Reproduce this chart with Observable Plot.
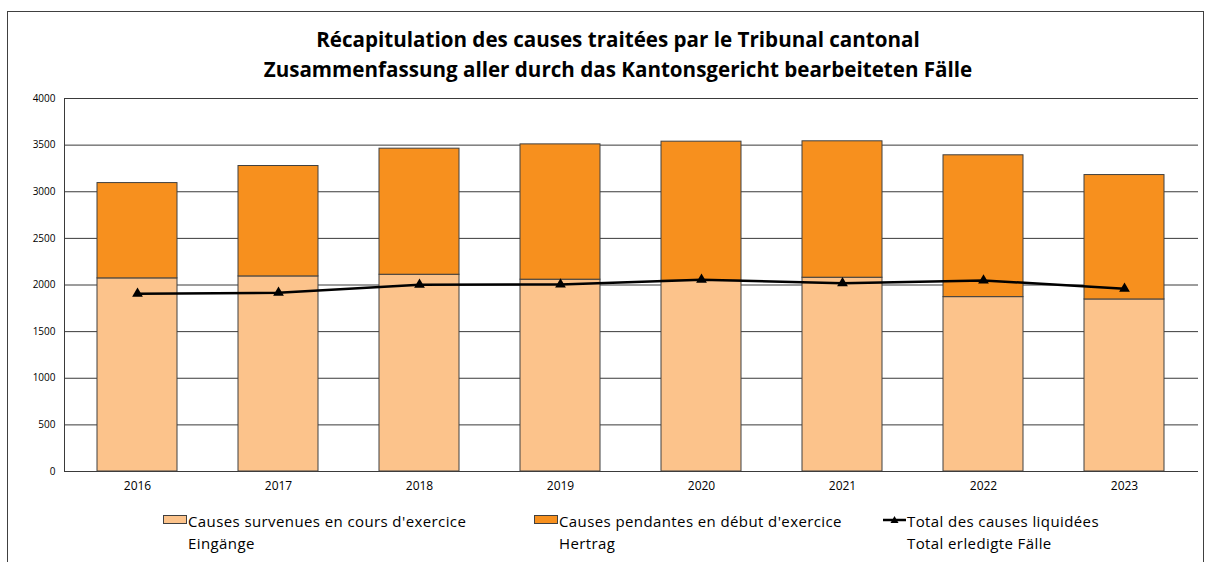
<!DOCTYPE html>
<html><head><meta charset="utf-8">
<script src="https://cdn.jsdelivr.net/npm/d3@7"></script>
<script src="https://cdn.jsdelivr.net/npm/@observablehq/plot@0.6"></script>
<style>
body{margin:0;background:#fff;width:1206px;height:562px;overflow:hidden;position:relative;font-family:"Open Sans",sans-serif;}
#frame{position:absolute;left:7px;top:11px;width:1195px;height:600px;border:1px solid #404040;}
#title{position:absolute;left:0;top:24px;width:1236px;text-align:center;font-weight:bold;font-size:20.6px;line-height:30px;color:#000;}
#chart{position:absolute;left:0;top:88px;}
#legend{position:absolute;top:510px;left:0;width:1206px;font-size:15px;letter-spacing:0.4px;line-height:22px;color:#000;}
.item{position:absolute;top:0;white-space:nowrap;}
.item svg{position:absolute;left:-25px;top:5px;}
</style></head>
<body>
<div id="frame"></div>
<div id="title">Récapitulation des causes traitées par le Tribunal cantonal<br>Zusammenfassung aller durch das Kantonsgericht bearbeiteten Fälle</div>
<div id="chart"></div>
<div id="legend">
 <div class="item" style="left:188px"><svg width="25" height="12"><rect x="0.5" y="0.5" width="23" height="8" fill="#FCC38B" stroke="#404040"/></svg>Causes survenues en cours d'exercice<br>Eingänge</div>
 <div class="item" style="left:559px"><svg width="25" height="12"><rect x="0.5" y="0.5" width="23" height="8" fill="#F7901E" stroke="#404040"/></svg>Causes pendantes en début d'exercice<br>Hertrag</div>
 <div class="item" style="left:907px"><svg width="25" height="12"><line x1="1" x2="24" y1="5" y2="5" stroke="#000" stroke-width="2.5"/><path d="M12.5,1 L16.5,8 L8.5,8 Z" fill="#000"/></svg>Total des causes liquidées<br>Total erledigte Fälle</div>
</div>
<script>
const years = ["2016","2017","2018","2019","2020","2021","2022","2023"];
const eingaenge = [2071, 2092, 2110, 2057, 2045, 2078, 1870, 1845];
const hertrag = [1022, 1184, 1352, 1451, 1492, 1463, 1521, 1334];
const erledigt = [1907, 1917, 2003, 2006, 2057, 2020, 2049, 1960];
const yTicks = [0, 500, 1000, 1500, 2000, 2500, 3000, 3500, 4000];

const stacked = [
  ...years.map((y, i) => ({year: y, serie: "Eingänge", value: eingaenge[i]})),
  ...years.map((y, i) => ({year: y, serie: "Hertrag", value: hertrag[i]}))
];
const lineData = years.map((y, i) => ({year: y, value: erledigt[i]}));

const chart = Plot.plot({
  width: 1206,
  height: 420,
  marginLeft: 64,
  marginRight: 8,
  marginTop: 10,
  marginBottom: 37,
  style: {fontFamily: "Open Sans, sans-serif", fontSize: "10px", color: "#000", background: "transparent"},
  x: {domain: years, paddingInner: 0.43, paddingOuter: 0.215, label: null},
  y: {domain: [0, 4000], label: null},
  color: {domain: ["Eingänge", "Hertrag"], range: ["#FCC38B", "#F7901E"]},
  marks: [
    Plot.ruleY(yTicks, {stroke: "#3a3a3a", strokeWidth: 1}),
    Plot.frame({anchor: "left", stroke: "#3a3a3a"}),
    Plot.axisY({ticks: yTicks, tickSize: 0, tickPadding: 9, tickFormat: d => String(d), fontSize: 10}),
    Plot.axisX({tickSize: 0, tickPadding: 10, fontSize: 12}),
    Plot.barY(stacked, {x: "year", y: "value", fill: "serie", stroke: "#404040", strokeWidth: 1}),
    Plot.line(lineData, {x: "year", y: "value", stroke: "#000", strokeWidth: 2.5}),
    Plot.dot(lineData, {x: "year", y: "value", symbol: "triangle", r: 4, fill: "#000"})
  ]
});
document.getElementById("chart").appendChild(chart);
</script>
</body></html>
